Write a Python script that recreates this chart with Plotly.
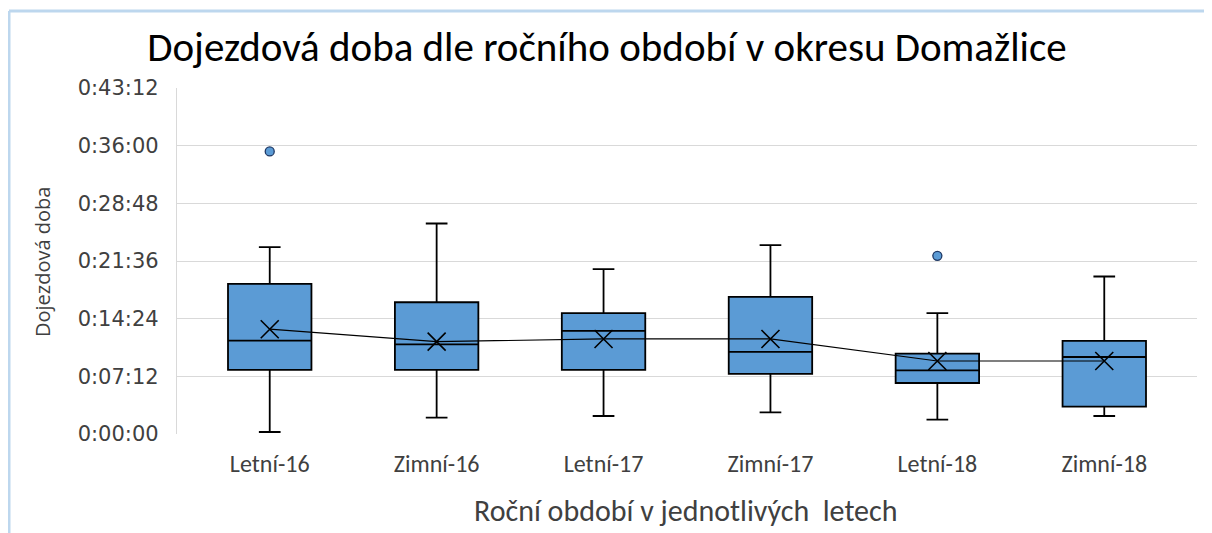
import plotly.graph_objects as go

# seasons and box statistics (seconds)
seasons = ["Letní-16", "Zimní-16", "Letní-17", "Zimní-17", "Letní-18", "Zimní-18"]
lower = [15, 122, 135, 162, 107, 135]
q1 = [480, 480, 480, 450, 382, 205]
median = [700, 672, 772, 615, 477, 577]
q3 = [1125, 987, 905, 1027, 602, 697]
upper = [1400, 1577, 1235, 1415, 905, 1180]
means = [785, 692, 712, 712, 547, 547]

outlier_x = ["Letní-16", "Letní-18"]
outlier_y = [2117, 1335]

tick_secs = [0, 432, 864, 1296, 1728, 2160, 2592]


def hms(s):
    return f"{s // 3600}:{(s % 3600) // 60:02d}:{s % 60:02d}"


tick_text = [hms(s) for s in tick_secs]

fill = "#5B9BD5"
txt = "#404040"
calibri = "Carlito, 'Liberation Sans Narrow', sans-serif"

# page has an 8px body margin, so the figure is drawn at (8, 8) in the window
OFF = 8
W, H = 1212 - OFF, 533 - OFF
# plot area in window pixels: x 177..1197, y 88..434
L, R, T, B = 177 - OFF, W - (1197 - OFF), 88 - OFF, H - (434 - OFF)
PW, PH = W - L - R, H - T - B


def px(x):
    # window x pixel -> paper coordinate
    return (x - OFF - L) / PW


def py(y):
    # window y pixel -> paper coordinate
    return (H - B - (y - OFF)) / PH


fig = go.Figure()
fig.add_trace(go.Box(
    x=seasons, q1=q1, median=median, q3=q3,
    lowerfence=lower, upperfence=upper,
    width=0.5, whiskerwidth=0.26,
    fillcolor=fill, line=dict(color="#000000", width=1.8),
    boxpoints=False, showlegend=False,
))
# mean line with X markers
fig.add_trace(go.Scatter(
    x=seasons, y=means, mode="lines+markers",
    line=dict(color="#000000", width=1.2),
    marker=dict(symbol="x-thin-open", size=18, line=dict(color="#000000", width=1.6)),
    showlegend=False,
))
# outliers
fig.add_trace(go.Scatter(
    x=outlier_x, y=outlier_y, mode="markers",
    marker=dict(symbol="circle", size=9, color=fill, line=dict(color="#1F3864", width=1.3)),
    showlegend=False,
))

fig.update_xaxes(
    type="category", categoryorder="array", categoryarray=seasons,
    showgrid=False, showline=False, zeroline=False, automargin=False,
    tickfont=dict(family=calibri, size=24, color=txt),
    ticklabelstandoff=13,
)
fig.update_yaxes(
    range=[0, 2592], tickvals=tick_secs, ticktext=tick_text,
    showgrid=True, gridcolor="#D9D9D9", gridwidth=1.3,
    showline=True, linecolor="#D9D9D9", linewidth=1.3, zeroline=False,
    automargin=False,
    tickfont=dict(family="'DejaVu Sans', sans-serif", size=21, color=txt),
    ticklabelstandoff=13,
)
fig.update_layout(
    width=W, height=H,
    margin=dict(l=L, r=R, t=T, b=B),
    plot_bgcolor="white", paper_bgcolor="white",
    title=dict(text="Dojezdová doba dle ročního období v okresu Domažlice",
               x=px(607), xanchor="center", xref="paper",
               y=(H - (47 - OFF)) / H, yanchor="middle",
               font=dict(family=calibri, size=41, color="#000000")),
    annotations=[
        dict(text="Roční období v jednotlivých  letech", xref="paper", yref="paper",
             x=px(686), y=py(510), xanchor="center", yanchor="middle", showarrow=False,
             font=dict(family=calibri, size=30, color=txt)),
        dict(text="Dojezdová doba", xref="paper", yref="paper", textangle=-90,
             x=px(42), y=py(262), xanchor="center", yanchor="middle", showarrow=False,
             font=dict(family="'Open Sans', sans-serif", size=20, color=txt)),
    ],
    shapes=[
        # light blue chart-area border (top and left edges)
        dict(type="line", xref="paper", yref="paper", x0=px(9), x1=px(1212), y0=py(11), y1=py(11),
             line=dict(color="#BDD7EE", width=3)),
        dict(type="line", xref="paper", yref="paper", x0=px(9), x1=px(9), y0=py(11), y1=py(533),
             line=dict(color="#BDD7EE", width=3)),
    ],
)

fig.write_html("out.html")
